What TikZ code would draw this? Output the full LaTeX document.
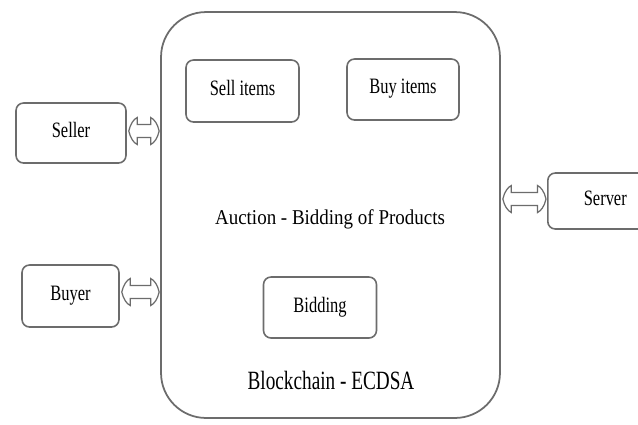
\documentclass[tikz,border=0pt]{standalone}
\usepackage{graphicx}
\usepackage{fontspec}
\setmainfont{Liberation Serif}
\usepackage{tikz}
\usetikzlibrary{arrows.meta, positioning, calc}

\newcommand{\boxtext}[1]{\raisebox{0.12cm}{\fontsize{12.5}{14}\selectfont\scalebox{0.75}[1]{#1}}}
\newcommand{\swaparrow}[2]{%
  \draw[swap] let \p1=(#1), \p2=(#2), \n1={\x1+0.04cm}, \n2={\x2-0.02cm} in
    (\n1,\y1) .. controls (\n1+0.03cm,\y1+0.14cm) and (\n1+0.1cm,\y1+0.24cm) .. (\n1+0.17cm,\y1+0.27cm)
    -- (\n1+0.17cm,\y1+0.13cm) -- (\n2-0.17cm,\y1+0.13cm) -- (\n2-0.17cm,\y1+0.27cm)
    .. controls (\n2-0.1cm,\y1+0.24cm) and (\n2-0.03cm,\y1+0.14cm) .. (\n2,\y1)
    .. controls (\n2-0.03cm,\y1-0.14cm) and (\n2-0.1cm,\y1-0.24cm) .. (\n2-0.17cm,\y1-0.27cm)
    -- (\n2-0.17cm,\y1-0.13cm) -- (\n1+0.17cm,\y1-0.13cm) -- (\n1+0.17cm,\y1-0.27cm)
    .. controls (\n1+0.1cm,\y1-0.24cm) and (\n1+0.03cm,\y1-0.14cm) .. cycle;}

\begin{document}
\begin{tikzpicture}[x=0.02cm, y=-0.02cm,
    frame/.style={draw=gray!85!black, line width=0.9pt, rounded corners=0.15cm, fill=white},
    swap/.style={draw=gray!85!black, line width=0.7pt, fill=white}
  ]
  \clip (0,0) rectangle (638,424);
  \fill[white] (0,0) rectangle (638,424);

  \node[draw=gray!85!black, line width=1pt, rounded corners=0.9cm,
        minimum width=6.78cm, minimum height=8.12cm] (chain) at (330.5,215) {};

  \node[frame, minimum width=2.2cm, minimum height=1.2cm] (seller) at (71,133) {\boxtext{Seller}};
  \node[frame, minimum width=1.94cm, minimum height=1.24cm] (buyer) at (70.5,296) {\boxtext{Buyer}};
  \node[frame, minimum width=2.26cm, minimum height=1.24cm] (sell) at (242.5,91) {\boxtext{Sell items}};
  \node[frame, minimum width=2.24cm, minimum height=1.22cm] (buy) at (403,89.5) {\boxtext{Buy items}};
  \node[frame, minimum width=2.26cm, minimum height=1.22cm] (bid) at (320,307.5) {\boxtext{Bidding}};
  \node[frame, minimum width=2.3cm, minimum height=1.12cm, anchor=west] (server) at (547,201) {\boxtext{Server}};

  \node (auction) at (330,219) {\fontsize{12}{14}\selectfont\scalebox{0.9}[1]{Auction - Bidding of Products}};
  \node (ecdsa) at (331,380) {\fontsize{15}{18}\selectfont\scalebox{0.73}[1]{Blockchain - ECDSA}};

  \swaparrow{[yshift=0.04cm]seller.east}{[yshift=0.04cm]seller.east -| chain.west}
  \swaparrow{[yshift=0.08cm]buyer.east}{[yshift=0.08cm]buyer.east -| chain.west}
  \swaparrow{[yshift=0.04cm]server.west -| chain.east}{[yshift=0.04cm]server.west}
\end{tikzpicture}
\end{document}
